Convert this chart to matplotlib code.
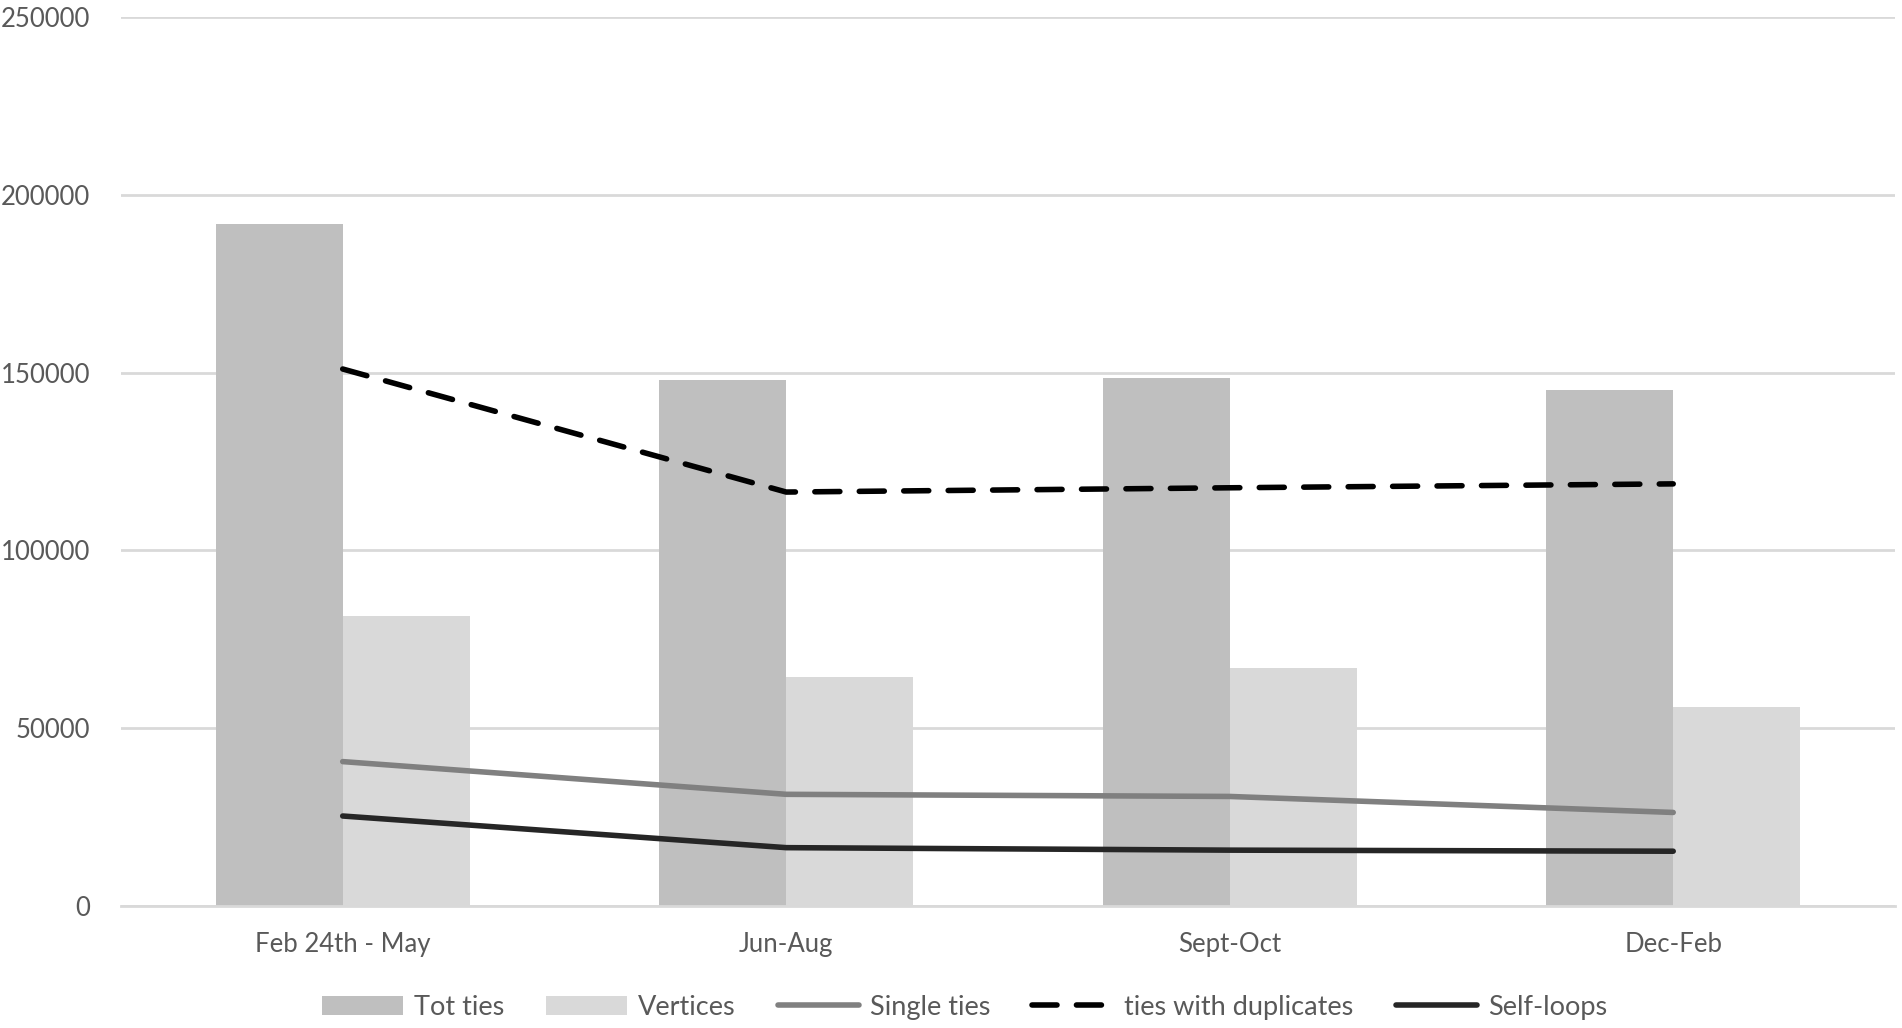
import matplotlib.pyplot as plt
import numpy as np

categories = ['Feb 24th - May', 'Jun-Aug', 'Sept-Oct', 'Dec-Feb']
tot_ties = [191700, 148000, 148400, 145000]
vertices = [81500, 64500, 66800, 55900]
single_ties = [40600, 31400, 30800, 26300]
ties_with_duplicates = [151000, 116400, 117600, 118700]
self_loops = [25300, 16400, 15700, 15400]

plt.rcParams['font.family'] = ['Lato', 'DejaVu Sans']
txt = '#595959'
grid = '#d9d9d9'

fig = plt.figure(figsize=(19.02, 10.28), dpi=100)
ax = fig.add_axes([0.0636, 0.1187, 0.9327, 0.8648])

x = np.arange(len(categories))
w = 0.286
h1 = ax.bar(x - w / 2, tot_ties, w, color='#bfbfbf', label='Tot ties', zorder=2)
h2 = ax.bar(x + w / 2, vertices, w, color='#d9d9d9', label='Vertices', zorder=2)
h3, = ax.plot(x, single_ties, color='#808080', lw=4, solid_capstyle='round', label='Single ties', zorder=3)
h4, = ax.plot(x, ties_with_duplicates, color='black', lw=4, dashes=(4.5, 3.5), dash_capstyle='round',
              label='ties with duplicates', zorder=3)
h5, = ax.plot(x, self_loops, color='#262626', lw=4, solid_capstyle='round', label='Self-loops', zorder=3)

ax.set_xlim(-0.5, 3.5)
ax.set_ylim(0, 250000)
ax.set_yticks(range(0, 250001, 50000))
ax.set_yticklabels([str(v) for v in range(0, 250001, 50000)])
ax.set_xticks(x)
ax.set_xticklabels(categories)
ax.yaxis.grid(True, color=grid, lw=2, zorder=0)
for s in ['top', 'right', 'left']:
    ax.spines[s].set_visible(False)
ax.spines['bottom'].set_color(grid)
ax.spines['bottom'].set_linewidth(2)
ax.tick_params(axis='both', length=0, labelsize=18.5, labelcolor=txt)
ax.tick_params(axis='y', pad=22)
ax.tick_params(axis='x', pad=19)

fig.legend(handles=[h1, h2, h3, h4, h5], loc='center', bbox_to_anchor=(0.507, 0.02), ncol=5,
           frameon=False, fontsize=19.5, labelcolor=txt, handlelength=3.0, handletextpad=0.4,
           columnspacing=1.55, handleheight=0.7)

fig.savefig('out.png', dpi=100)
